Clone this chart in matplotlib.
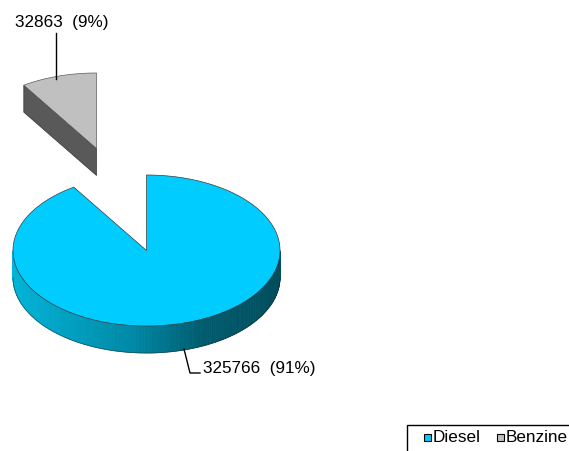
import numpy as np
import matplotlib.pyplot as plt
from matplotlib.patches import Polygon, Rectangle
from matplotlib.colors import LinearSegmentedColormap

plt.rcParams['font.family'] = ['Liberation Sans', 'DejaVu Sans']

fuels = ['Diesel', 'Benzine']
amounts = [325766, 32863]
top_colors = ['#00CCFF', '#C0C0C0']

total = sum(amounts)
fracs = [a / total for a in amounts]

fig = plt.figure(figsize=(5.69, 4.51), dpi=100)
ax = fig.add_axes([0, 0, 1, 1])
ax.set_xlim(0, 569)
ax.set_ylim(451, 0)
ax.axis('off')

# ellipse of the pie top, in pixel units
rx, ry, depth = 133.5, 75.5, 27
cx, cy = 146.5, 250.5
explode = (-50, -102)


def arc(x0, y0, t0, t1, n=200):
    t = np.radians(np.linspace(t0, t1, n))
    return np.column_stack([x0 + rx * np.cos(t), y0 - ry * np.sin(t)])


side_cmap = LinearSegmentedColormap.from_list(
    'side', [(0, '#00B4D8'), (0.45, '#0088A6'), (0.72, '#005B6D'), (1, '#004E5E')])

# slice angles: clockwise from 12 o'clock
d_t1 = 90
d_t0 = 90 - 360 * fracs[0]
b_t0, b_t1 = 90, 90 + 360 * fracs[1]

# --- Diesel: front rim with gradient
ts = np.linspace(-180, 0, 181)
for a, b in zip(ts[:-1], ts[1:]):
    p = arc(cx, cy, a, b, 4)
    poly = np.vstack([p, (p + [0, depth])[::-1]])
    xm = (p[:, 0].mean() - (cx - rx)) / (2 * rx)
    ax.add_patch(Polygon(poly, closed=True, facecolor=side_cmap(xm),
                         edgecolor=side_cmap(xm), lw=0.6))
rim = arc(cx, cy, -180, 0)
ax.plot(rim[:, 0], rim[:, 1] + depth, color='#202020', lw=0.5, alpha=0.6)

# Diesel top
top = np.vstack([[cx, cy], arc(cx, cy, d_t0, d_t1, 400)])
ax.add_patch(Polygon(top, closed=True, facecolor=top_colors[0],
                     edgecolor='#3a3a3a', lw=0.5))

# --- Benzine (exploded)
bx, by = cx + explode[0], cy + explode[1]
edge = arc(bx, by, b_t1, b_t1, 1)[0]
face = np.array([[bx, by], edge, edge + [0, depth], [bx, by + depth]])
ax.add_patch(Polygon(face, closed=True, facecolor='#595959',
                     edgecolor='#333333', lw=0.5))
btop = np.vstack([[bx, by], arc(bx, by, b_t0, b_t1, 100)])
ax.add_patch(Polygon(btop, closed=True, facecolor=top_colors[1],
                     edgecolor='#5a5a5a', lw=0.5))

# --- data labels with leader lines
lab = [f'{v}  ({f:.0%})' for v, f in zip(amounts, fracs)]
ax.plot([56, 56], [33, 79], color='black', lw=1)
ax.text(15, 22, lab[1], fontsize=12.3, va='center', ha='left')
ax.plot([184, 190, 200], [349, 373, 373], color='black', lw=1)
ax.text(203, 369, lab[0], fontsize=12.3, va='center', ha='left')

# legend (box runs past the right/bottom edge)
ax.add_patch(Rectangle((407, 425), 200, 40, facecolor='white',
                       edgecolor='black', lw=1, clip_on=False))
for name, col, x in zip(fuels, top_colors, [424, 497]):
    ax.add_patch(Rectangle((x, 434), 7, 7, facecolor=col,
                           edgecolor='black', lw=0.8))
    ax.text(x + 9, 438, name, fontsize=12.3, va='center', ha='left')

fig.savefig('out.png', dpi=100)
